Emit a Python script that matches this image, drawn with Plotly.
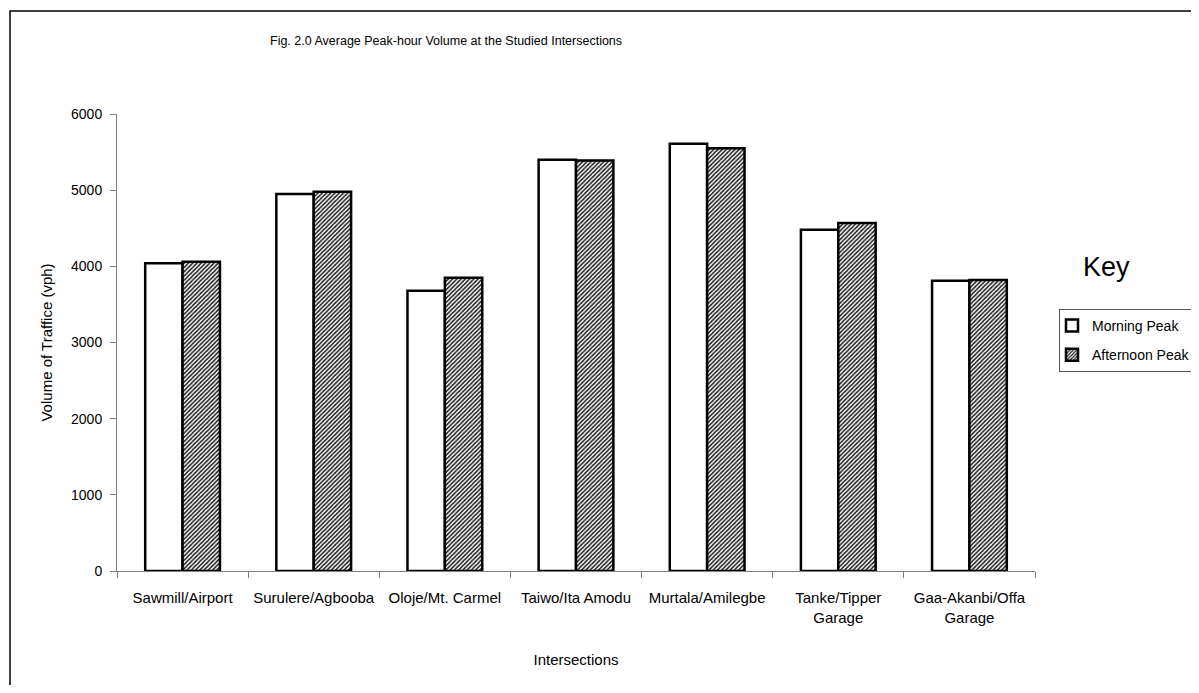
import plotly.graph_objects as go

categories = ["Sawmill/Airport", "Surulere/Agbooba", "Oloje/Mt. Carmel", "Taiwo/Ita Amodu",
              "Murtala/Amilegbe", "Tanke/Tipper<br>Garage", "Gaa-Akanbi/Offa<br>Garage"]
morning_peak = [4040, 4950, 3680, 5400, 5610, 4480, 3810]
afternoon_peak = [4060, 4980, 3850, 5390, 5550, 4570, 3820]
y_ticks = [0, 1000, 2000, 3000, 4000, 5000, 6000]

FONT = "Liberation Sans, Arial, sans-serif"

# page body has an 8px margin; figure sized to fit the window
OFF = 8
W, H = 1183, 677
# screen-pixel positions of the plot area in the reference
SX0, SX1, SY0, SY1 = 117, 1035, 114, 571
L, T = SX0 - OFF, SY0 - OFF
R, B = W - (SX1 - OFF), H - (SY1 - OFF)
pw, ph = W - L - R, H - T - B

def px(sx):
    return (sx - OFF - L) / pw

def py(sy):
    return (H - B - (sy - OFF)) / ph

fig = go.Figure()
fig.add_trace(go.Bar(
    name="Morning Peak", x=categories, y=morning_peak, legendgroup="m",
    marker=dict(color="white", line=dict(color="black", width=2.5)),
))
fig.add_trace(go.Bar(
    name="Afternoon Peak", x=categories, y=afternoon_peak, legendgroup="a",
    marker=dict(color="white", line=dict(color="black", width=2.5),
                pattern=dict(shape="/", fgcolor="#1a1a1a", bgcolor="white",
                             size=3, solidity=0.5, fillmode="replace")),
))

fig.update_layout(
    width=W, height=H,
    margin=dict(l=L, r=R, t=T, b=B, autoexpand=False),
    paper_bgcolor="white", plot_bgcolor="white",
    barmode="group", bargap=0.43, bargroupgap=0,
    font=dict(family=FONT, size=14, color="black"),
    showlegend=True,
    legend=dict(x=px(1059), y=py(309), xanchor="left", yanchor="top",
                bordercolor="#555555", borderwidth=1, bgcolor="white",
                font=dict(family=FONT, size=14, color="black"),
                tracegroupgap=8, itemwidth=30, indentation=-8),
    xaxis=dict(showline=True, linecolor="#808080", linewidth=1,
               ticks="outside", tickson="boundaries", ticklen=6, tickcolor="#808080",
               ticklabelstandoff=13,
               tickfont=dict(family=FONT, size=15, color="black"),
               showgrid=False, zeroline=False,
               title=dict(text="Intersections", font=dict(family=FONT, size=15, color="black"),
                          standoff=29)),
    yaxis=dict(range=[0, 6000], tickvals=y_ticks, showline=True, linecolor="#808080",
               linewidth=1, ticks="outside", ticklen=6, tickcolor="#808080",
               ticklabelstandoff=5,
               tickfont=dict(family=FONT, size=14, color="black"),
               showgrid=False, zeroline=False,
               title=dict(text="Volume of Traffice (vph)",
                          font=dict(family=FONT, size=15, color="black"), standoff=14)),
    annotations=[
        dict(text="Fig. 2.0 Average Peak-hour Volume at the Studied Intersections",
             xref="paper", yref="paper", x=px(446), y=py(41), xanchor="center", yanchor="middle",
             showarrow=False, font=dict(family=FONT, size=12.5, color="black")),
        dict(text="Key", xref="paper", yref="paper", x=px(1081), y=py(267),
             xanchor="left", yanchor="middle", showarrow=False,
             font=dict(family=FONT, size=27, color="black")),
    ],
    shapes=[
        dict(type="rect", xref="paper", yref="paper",
             x0=px(10), y0=py(760), x1=px(1260), y1=py(11),
             line=dict(color="black", width=1.5), layer="below"),
    ],
)

fig.write_html("out.html")
